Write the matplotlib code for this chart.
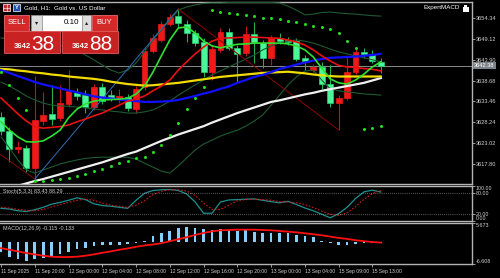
import matplotlib
matplotlib.use("Agg")
import matplotlib.pyplot as plt
from matplotlib.patches import Rectangle
import numpy as np

plt.rcParams['font.family'] = ['Liberation Sans Narrow', 'Liberation Sans', 'DejaVu Sans']

# ---------------- datos (Gold H1) ----------------
etiquetas = ["11 Sep 2025", "11 Sep 20:00", "12 Sep 00:00", "12 Sep 04:00", "12 Sep 08:00",
             "12 Sep 12:00", "12 Sep 16:00", "12 Sep 20:00", "13 Sep 00:00", "13 Sep 04:00",
             "15 Sep 09:00", "15 Sep 13:00"]
pos_etiquetas = [0, 4, 8, 12, 16, 20, 24, 28, 32, 36, 40, 44]

abre = [3629.58, 3626.06, 3621.46, 3621.71, 3616.68, 3628.50, 3630.26, 3629.26, 3632.78, 3635.80,
        3635.04, 3632.02, 3637.06, 3635.04, 3634.04, 3634.54, 3631.52, 3637.13, 3646.19, 3648.88,
        3652.91, 3654.92, 3652.91, 3650.64, 3648.38, 3640.83, 3646.37, 3650.97, 3646.87, 3645.61,
        3650.39, 3648.13, 3644.35, 3649.38, 3648.88, 3648.63, 3644.35, 3641.33, 3642.09, 3637.81,
        3633.03, 3634.29, 3640.83, 3645.86, 3645.36, 3643.35]
alto = [3630.77, 3626.99, 3623.47, 3622.46, 3639.82, 3635.87, 3637.56, 3637.56, 3641.33, 3636.81,
        3636.30, 3637.81, 3638.06, 3636.30, 3636.55, 3635.30, 3637.31, 3646.87, 3650.39, 3653.66,
        3655.42, 3656.68, 3653.91, 3651.40, 3649.38, 3647.62, 3651.90, 3651.90, 3647.62, 3652.40,
        3653.50, 3648.88, 3650.14, 3650.64, 3649.63, 3649.38, 3645.11, 3642.84, 3643.35, 3642.59,
        3635.04, 3645.11, 3646.62, 3646.94, 3646.37, 3644.35]
bajo = [3624.98, 3618.26, 3620.45, 3615.75, 3613.91, 3627.49, 3627.49, 3628.50, 3632.02, 3633.78,
        3630.51, 3631.27, 3632.78, 3633.53, 3633.03, 3631.02, 3630.51, 3636.30, 3645.61, 3648.38,
        3652.40, 3652.15, 3648.45, 3647.37, 3639.65, 3638.82, 3645.86, 3646.37, 3638.31, 3644.86,
        3643.00, 3641.84, 3642.59, 3647.87, 3647.62, 3643.60, 3641.33, 3640.83, 3636.55, 3632.02,
        3626.24, 3633.78, 3640.32, 3644.35, 3643.10, 3640.58]
cierre = [3625.99, 3621.46, 3621.96, 3616.68, 3628.75, 3630.01, 3629.00, 3633.03, 3636.05, 3634.79,
          3632.02, 3637.06, 3633.53, 3634.29, 3634.79, 3631.77, 3636.55, 3646.19, 3649.38, 3652.91,
          3654.74, 3653.16, 3650.64, 3648.13, 3640.83, 3646.62, 3650.97, 3646.87, 3645.36, 3650.39,
          3648.38, 3644.35, 3649.38, 3648.63, 3648.38, 3644.10, 3643.60, 3642.09, 3637.81, 3633.03,
          3634.29, 3640.83, 3645.86, 3645.36, 3643.60, 3642.38]

ma_amarilla = [3641.6, 3641.5, 3641.2, 3641.0, 3640.7, 3640.5, 3640.2, 3640.0, 3639.7, 3639.5,
               3639.3, 3639.1, 3638.8, 3638.4, 3638.1, 3637.8, 3637.6, 3637.4, 3637.5, 3637.7,
               3637.9, 3638.1, 3638.4, 3638.7, 3639.0, 3639.3, 3639.6, 3639.8, 3640.0, 3640.2,
               3640.4, 3640.6, 3640.7, 3640.8, 3640.9, 3640.7, 3640.5, 3640.2, 3640.0, 3639.8,
               3639.7, 3639.7, 3639.7, 3639.7, 3639.7, 3639.7]
ma_azul = [3641.3, 3640.6, 3639.8, 3639.1, 3638.3, 3637.7, 3637.2, 3636.7, 3636.2, 3635.7,
           3635.2, 3634.7, 3634.4, 3634.2, 3633.9, 3633.7, 3633.5, 3633.3, 3633.3, 3633.4,
           3633.5, 3633.8, 3634.3, 3634.8, 3635.4, 3635.9, 3636.6, 3637.2, 3638.1, 3638.8,
           3639.6, 3640.1, 3640.8, 3641.6, 3642.1, 3642.7, 3643.2, 3643.7, 3644.1, 3644.4,
           3644.5, 3644.6, 3644.7, 3644.9, 3645.1, 3645.4]
ma_blanca = [3611.0, 3611.5, 3612.2, 3612.8, 3613.4, 3613.9, 3614.5, 3615.1, 3615.7, 3616.3,
             3616.9, 3617.5, 3618.1, 3618.8, 3619.5, 3620.2, 3620.8, 3621.7, 3622.6, 3623.5,
             3624.3, 3625.1, 3625.8, 3626.5, 3627.2, 3628.1, 3628.9, 3629.7, 3630.5, 3631.2,
             3631.9, 3632.6, 3633.3, 3633.7, 3634.2, 3634.7, 3635.2, 3635.6, 3636.1, 3636.5,
             3636.9, 3637.3, 3637.7, 3638.1, 3638.7, 3639.3]
ma_roja = [3634.3, 3632.3, 3630.3, 3628.5, 3627.1, 3626.7, 3626.9, 3627.1, 3627.5, 3628.3,
           3629.0, 3629.8, 3630.5, 3631.5, 3632.5, 3633.5, 3634.0, 3634.8, 3636.1, 3637.3,
           3638.8, 3641.3, 3643.4, 3645.4, 3647.1, 3648.6, 3649.3, 3649.4, 3649.5, 3649.6,
           3649.6, 3649.5, 3649.4, 3649.3, 3648.9, 3648.4, 3647.6, 3646.4, 3644.9, 3643.6,
           3642.5, 3642.1, 3642.0, 3641.7, 3641.5, 3641.1]
ma_verde = [3628.3, 3626.2, 3624.5, 3623.3, 3623.2, 3623.5, 3624.7, 3626.2, 3629.3, 3631.5,
            3632.8, 3633.5, 3633.8, 3633.9, 3634.0, 3634.2, 3635.3, 3637.3, 3640.8, 3644.9,
            3648.9, 3651.9, 3652.2, 3650.6, 3648.6, 3647.4, 3646.9, 3647.4, 3647.8, 3647.9,
            3648.1, 3648.1, 3648.1, 3648.1, 3647.9, 3647.4, 3646.4, 3644.6, 3641.8, 3639.1,
            3638.1, 3637.8, 3638.8, 3640.3, 3642.1, 3643.4]
bb_sup = [3649.4, 3649.1, 3648.9, 3648.6, 3648.4, 3648.1, 3647.9, 3647.5, 3647.1, 3646.4,
          3645.1, 3643.9, 3642.6, 3641.3, 3640.6, 3641.3, 3643.1, 3645.9, 3648.9, 3651.4,
          3653.9, 3656.4, 3657.2, 3657.7, 3658.1, 3658.2, 3658.2, 3658.3, 3658.3, 3658.3,
          3658.3, 3658.3, 3658.3, 3658.2, 3657.4, 3656.4, 3655.2, 3655.4, 3655.8, 3655.9,
          3655.7, 3655.5, 3655.4, 3655.2, 3655.0, 3654.9]
bb_med = [3638.3, 3637.3, 3636.1, 3634.8, 3633.8, 3633.0, 3632.5, 3632.3, 3632.2, 3632.0,
          3631.8, 3631.5, 3631.3, 3631.0, 3630.8, 3630.5, 3630.5, 3630.8, 3631.3, 3632.3,
          3633.5, 3635.0, 3636.3, 3637.6, 3638.8, 3640.1, 3641.1, 3642.1, 3643.1, 3644.1,
          3645.1, 3646.4, 3647.4, 3648.1, 3648.6, 3648.9, 3648.6, 3648.1, 3647.4, 3646.6,
          3645.9, 3645.4, 3644.9, 3644.4, 3643.9, 3643.4]
bb_inf = [3624.5, 3621.7, 3618.7, 3616.2, 3615.4, 3616.2, 3616.9, 3617.7, 3618.2, 3618.7,
          3619.1, 3619.3, 3619.4, 3619.4, 3619.4, 3619.4, 3618.9, 3617.9, 3616.9, 3615.9,
          3615.4, 3617.2, 3619.2, 3621.2, 3622.7, 3623.7, 3624.7, 3625.5, 3626.2, 3627.2,
          3628.5, 3630.0, 3632.5, 3635.0, 3637.6, 3639.6, 3641.1, 3641.3, 3638.8, 3636.6,
          3636.1, 3635.8, 3635.6, 3635.3, 3635.2, 3635.0]
sar = [3640.83, 3637.56, 3634.21, 3631.27, 3613.41, 3613.53, 3613.66, 3613.91, 3614.16, 3614.66,
       3615.29, 3615.92, 3616.55, 3617.18, 3617.81, 3618.44, 3619.07, 3619.52, 3620.78, 3622.46,
       3624.98, 3628.07, 3631.52, 3634.41, 3637.06, 3656.43, 3656.05, 3655.80, 3655.42, 3655.17,
       3654.92, 3654.54, 3654.34, 3654.09, 3653.66, 3653.33, 3652.91, 3652.48, 3652.23, 3651.65,
       3650.57, 3648.63, 3646.79, 3626.41, 3626.81, 3627.24]
zz_x = [-1, 4, 21, 40]
zz_y = [3621.5, 3613.91, 3656.68, 3626.24]

stoch_main = [37, 35, 30, 28, 33, 40, 49, 54, 60, 67, 62, 50, 45, 43, 40, 37, 60, 80, 88, 90,
              91, 88, 78, 55, 23, 23, 55, 61, 62, 63, 64, 60, 56, 53, 57, 48, 38, 30, 20, 10,
              22, 40, 65, 84, 89, 83.43]
stoch_senal = [40, 38, 34, 31, 30, 34, 41, 48, 54, 60, 63, 60, 52, 46, 43, 40, 46, 59, 76, 86,
               90, 90, 86, 74, 52, 34, 34, 46, 59, 62, 63, 62, 60, 56, 55, 53, 48, 39, 29, 20,
               17, 24, 42, 63, 79, 88.29]

macd_hist = [-3.0, -4.5, -5.0, -5.8, -5.2, -4.7, -4.3, -3.5, -3.0, -2.2, -1.8, -1.2, -1.0, -0.8,
             -0.7, -0.5, -0.3, 0.5, 1.8, 2.7, 3.5, 4.2, 4.6, 4.4, 4.1, 3.8, 3.9, 3.8, 3.5, 3.8,
             3.1, 2.9, 2.9, 2.9, 2.8, 2.3, 2.0, 1.5, 0.5, -0.1, -0.9, -0.9, -0.5, -0.2, -0.15, -0.115]
macd_senal = [-1.8, -2.3, -2.8, -3.3, -3.7, -4.1, -4.4, -4.5, -4.5, -4.4, -4.1, -3.7, -3.2, -2.8,
              -2.3, -1.9, -1.4, -1.0, -0.7, -0.3, 0.3, 0.9, 1.5, 2.2, 2.8, 3.3, 3.6, 3.7, 3.8, 3.8,
              3.8, 3.7, 3.6, 3.4, 3.2, 3.0, 2.7, 2.4, 2.1, 1.7, 1.3, 1.0, 0.6, 0.3, 0.05, -0.133]

precio_ticks = [3617.80, 3623.02, 3628.24, 3633.46, 3638.68, 3643.90, 3649.12, 3654.34]
bid = 3642.38

# ---------------- figura ----------------
gris = '#b4b4b4'
texto = '#d0d0d0'
fs_eje = 4.1
x = np.arange(len(abre))

fig = plt.figure(figsize=(5, 2.78), dpi=100, facecolor='black')
ax = fig.add_axes([0, 0.3381, 0.944, 0.6558])
ax2 = fig.add_axes([0, 0.2040, 0.944, 0.1259])
ax3 = fig.add_axes([0, 0.0504, 0.944, 0.1457])

for a in (ax, ax2, ax3):
    a.set_facecolor('black')
    for s in a.spines.values():
        s.set_color(gris)
        s.set_linewidth(1.0)
    a.spines['left'].set_visible(False)
    a.set_xlim(-0.12, 55.8)
    a.yaxis.tick_right()
    a.tick_params(axis='y', colors=gris, labelcolor=texto, labelsize=fs_eje, length=2,
                  width=0.6, pad=1)
    a.tick_params(axis='x', bottom=False, labelbottom=False)

# ---- panel principal ----
ax.set_ylim(3612.65, 3658.52)
ax.set_yticks(precio_ticks)
ax.set_yticklabels(["%.2f" % v for v in precio_ticks])

ax.axhline(bid, color='#8a8a8a', lw=0.7, zorder=1)

for i in range(len(abre)):
    sube = cierre[i] >= abre[i]
    cuerpo = '#f01818' if sube else '#4df59a'
    borde = '#f01818' if sube else '#22d86a'
    mecha = '#c01515' if sube else '#22b050'
    ax.vlines(x[i], bajo[i], alto[i], color=mecha, lw=0.8, zorder=2)
    h = max(abs(cierre[i] - abre[i]), 0.15)
    ax.bar(x[i], h, bottom=min(abre[i], cierre[i]), width=0.7, color=cuerpo,
           edgecolor=borde, linewidth=0.5, zorder=3)

ax.plot(x, bb_sup, color='#1e5a32', lw=0.8, zorder=4)
ax.plot(x, bb_med, color='#1e5a32', lw=0.8, zorder=4)
ax.plot(x, bb_inf, color='#1e5a32', lw=0.8, zorder=4)
ax.plot(zz_x[0:2], zz_y[0:2], color='#8b0000', lw=0.7, zorder=4)
ax.plot(zz_x[1:3], zz_y[1:3], color='#2f6fb5', lw=0.7, zorder=4)
ax.plot(zz_x[2:4], zz_y[2:4], color='#8b0000', lw=0.7, zorder=4)
ax.plot(x, ma_blanca, color='#f0f0f0', lw=1.6, zorder=5)
ax.plot(x, ma_amarilla, color='#f2dc00', lw=1.6, zorder=5)
ax.plot(x, ma_azul, color='#1010ff', lw=1.6, zorder=5)
ax.plot(x, ma_roja, color='#e81010', lw=1.2, zorder=5)
ax.plot(x, ma_verde, color='#30e030', lw=1.2, zorder=5)
ax.plot(x, sar, 'o', color='#1ee01e', markersize=2.2, markeredgewidth=0, zorder=6)

ax.text(1.004, bid, "%.2f" % bid, transform=ax.get_yaxis_transform(), fontsize=fs_eje,
        color='white', va='center', ha='left',
        bbox=dict(boxstyle='square,pad=0.2', fc='#7d8288', ec='none'), zorder=7, clip_on=False)

# ---- estocastico ----
ax2.set_ylim(0, 100)
ax2.plot(x, stoch_main, color='#1f9090', lw=0.9)
ax2.plot(x, stoch_senal, color='#d01818', lw=0.8, ls=(0, (1.5, 1.5)))
for nivel in (80, 20):
    ax2.axhline(nivel, color='#b0b0b0', lw=0.5, ls=(0, (1, 2)))
ax2.set_yticks([0, 20, 80, 100])
ax2.set_yticklabels([])
ytr = ax2.get_yaxis_transform()
ax2.text(1.008, 100, "100.00", transform=ytr, fontsize=3.8, color=texto, va='top')
ax2.text(1.008, 80, "80.00", transform=ytr, fontsize=3.8, color=texto, va='center')
ax2.text(1.008, 20, "20.00", transform=ytr, fontsize=3.8, color=texto, va='center')
ax2.text(1.008, 0, "0.00", transform=ytr, fontsize=3.8, color=texto, va='bottom')
ax2.text(0.007, 0.93, "Stoch(5,3,3) 83.43 88.29", transform=ax2.transAxes, fontsize=3.9,
         color=texto, va='top')

# ---- MACD ----
ax3.set_ylim(-6.608, 5.673)
ax3.bar(x, macd_hist, width=0.32, color='#87cefa', zorder=2)
ax3.plot(x, macd_senal, color='#ff1010', lw=1.3, zorder=3)
ax3.set_yticks([5.673, -6.608])
ax3.set_yticklabels([])
ytr = ax3.get_yaxis_transform()
ax3.text(1.008, 5.673, "5.673", transform=ytr, fontsize=3.9, color=texto, va='top')
ax3.text(1.008, -6.608, "-6.608", transform=ytr, fontsize=3.9, color=texto, va='bottom')
ax3.text(0.007, 0.93, "MACD(12,26,9) -0.115 -0.133", transform=ax3.transAxes, fontsize=3.9,
         color=texto, va='top')
ax3.set_xticks(pos_etiquetas)
ax3.set_xticklabels(etiquetas, ha='left')
ax3.tick_params(axis='x', bottom=True, labelbottom=True, colors=gris, labelcolor=texto,
                labelsize=3.6, length=2, width=0.6, pad=1.5)

# ---- capa superior: titulo y panel de trading ----
ov = fig.add_axes([0, 0, 1, 1])
ov.set_xlim(0, 500)
ov.set_ylim(278, 0)
ov.axis('off')
ov.patch.set_alpha(0)
ov.set_zorder(10)

ov.add_patch(Rectangle((3, 4), 7, 7, fc='#c03030', ec='white', lw=0.5))
ov.plot([3, 10], [7.5, 7.5], color='white', lw=0.4)
ov.plot([6.5, 6.5], [4, 11], color='white', lw=0.4)
ov.add_patch(Rectangle((13, 4), 7, 7, fc='#2050b0', ec='white', lw=0.5))
ov.text(16.5, 7.6, "Y", fontsize=4, color='white', ha='center', va='center', weight='bold')
ov.text(24, 7.5, "Gold, H1:  Gold vs. US Dollar", fontsize=4.5, color='white', va='center')
ov.text(460, 8, "ExpertMACD", fontsize=4.5, color='white', va='center', ha='right')
ov.add_patch(Rectangle((462.5, 7), 6, 4.5, fc='white', ec='none'))
ov.add_patch(Rectangle((463.8, 4.5), 3.4, 3, fc='white', ec='none'))

rojo = '#d42a2a'
ov.add_patch(Rectangle((4, 15), 25.3, 15.5, fc=rojo, ec='#e86a6a', lw=0.6))
ov.text(16.6, 22.8, "SELL", fontsize=5.5, color='white', ha='center', va='center')
ov.add_patch(Rectangle((30.7, 15), 11, 15.5, fc='#dcdcdc', ec='#9a9a9a', lw=0.5))
ov.text(36.2, 22.8, "\u25be", fontsize=4.5, color='#202020', ha='center', va='center',
        family='DejaVu Sans')
ov.add_patch(Rectangle((41.7, 15), 40, 15.5, fc='white', ec='#9a9a9a', lw=0.5))
ov.text(79.5, 22.8, "0.10", fontsize=5.8, color='black', ha='right', va='center')
ov.add_patch(Rectangle((81.7, 15), 9, 15.5, fc='#dcdcdc', ec='#9a9a9a', lw=0.5))
ov.text(86.2, 22.8, "\u25b4", fontsize=4.5, color='#202020', ha='center', va='center',
        family='DejaVu Sans')
ov.add_patch(Rectangle((91.7, 15), 25.6, 15.5, fc=rojo, ec='#e86a6a', lw=0.6))
ov.text(104.5, 22.8, "BUY", fontsize=5.5, color='white', ha='center', va='center')

ov.add_patch(Rectangle((4, 31), 56, 22, fc='#c82222', ec='#e05a5a', lw=0.6))
ov.text(30.8, 47.8, "3642", fontsize=5.6, color='white', ha='right', va='baseline', weight='bold')
ov.text(31.5, 50.2, "38", fontsize=15, color='white', ha='left', va='baseline')
ov.add_patch(Rectangle((61.7, 31), 56.6, 22, fc='#c82222', ec='#e05a5a', lw=0.6))
ov.text(88.6, 47.8, "3642", fontsize=5.6, color='white', ha='right', va='baseline', weight='bold')
ov.text(89.5, 50.2, "88", fontsize=15, color='white', ha='left', va='baseline')

fig.savefig('out.png', dpi=100, facecolor='black')
